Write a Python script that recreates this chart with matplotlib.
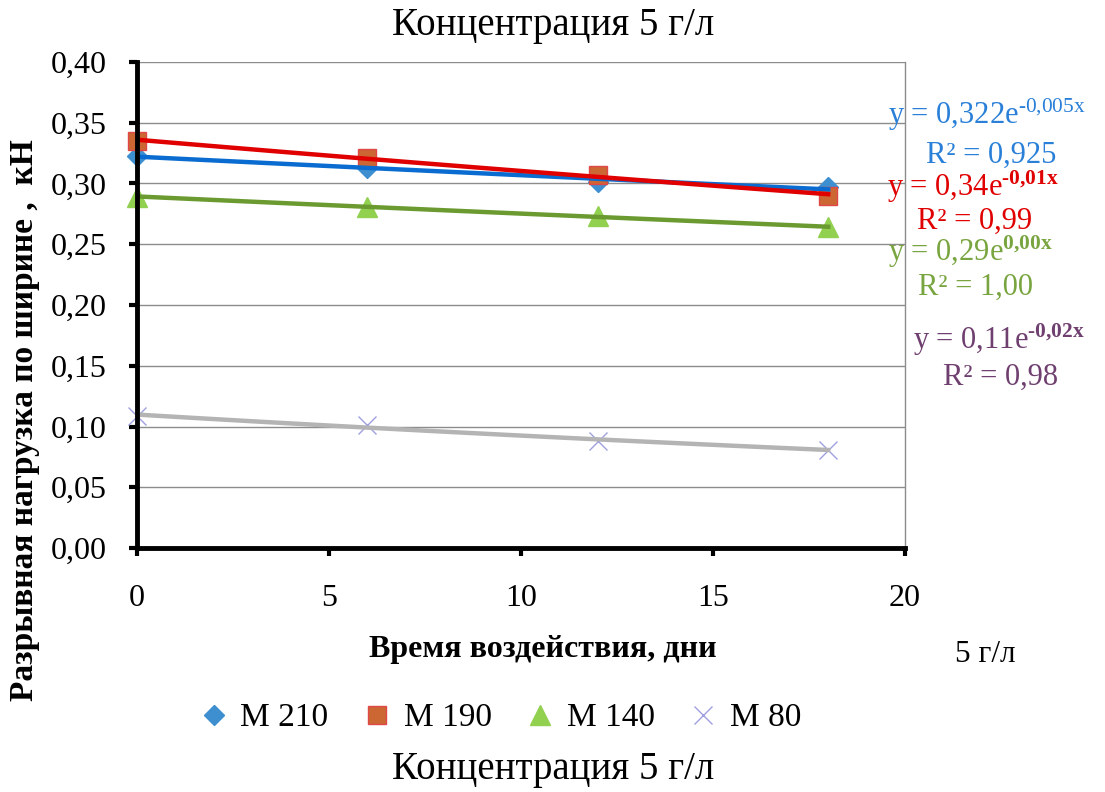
import numpy as np
import matplotlib.pyplot as plt

plt.rcParams['font.family'] = ['Liberation Serif', 'DejaVu Serif']
plt.rcParams['mathtext.fontset'] = 'custom'
plt.rcParams['mathtext.rm'] = 'Liberation Serif'
plt.rcParams['mathtext.bf'] = 'Liberation Serif:bold'
plt.rcParams['mathtext.default'] = 'regular'

days = [0, 6, 12, 18]
m210 = [0.323, 0.313, 0.301, 0.297]
m190 = [0.335, 0.321, 0.307, 0.290]
m140 = [0.289, 0.281, 0.273, 0.264]
m80 = [0.109, 0.101, 0.088, 0.081]

names = ['M 210', 'M 190', 'M 140', 'M 80']
eqs = [r'y = 0,322e$^{‐0{,}005x}$', r'y = 0,34e$^{\mathbf{‐0{,}01x}}$',
       r'y = 0,29e$^{\mathbf{0{,}00x}}$', r'y = 0,11e$^{\mathbf{‐0{,}02x}}$']
r2 = ['R² = 0,925', 'R² = 0,99', 'R² = 1,00', 'R² = 0,98']

xticks = [0, 5, 10, 15, 20]
yticks = np.arange(0, 0.401, 0.05)

fig = plt.figure(figsize=(11.05, 7.92), dpi=100)
ax = fig.add_axes([137/1105, 1-548/792, (905-137)/1105, (548-62)/792])

series = [m210, m190, m140, m80]
mstyle = [dict(marker='D', ms=10, mfc='#3D8FD0', mec='#3D8FD0'),
          dict(marker='s', ms=13, mfc='#CC6633', mec='#E04848', mew=1),
          dict(marker='^', ms=14, mfc='#92D050', mec='#92D050'),
          dict(marker='x', ms=13, mfc='none', mec='#A0A0E0', mew=1)]
tcol = ['#0A6CD0', '#E00000', '#6A9A30', '#B4B4B4']
ecol = ['#2A80D8', '#E00000', '#79A540', '#6F3F6F']

xs = np.linspace(0, 18, 50)
for i, ys in enumerate(series):
    ax.plot(days, ys, ls='none', clip_on=False, zorder=3, label=names[i], **mstyle[i])
    b, a = np.polyfit(days, np.log(ys), 1)
    ax.plot(xs, np.exp(a) * np.exp(b * xs), color=tcol[i], lw=3.2, zorder=4 + i * 0.1)

ax.set_xlim(0, 20)
ax.set_ylim(0, 0.40)
ax.set_xticks(xticks)
ax.set_yticks(yticks)
ax.set_yticklabels([f'{v:.2f}'.replace('.', ',') for v in yticks])
ax.grid(axis='y', color='#8C8C8C', lw=1)
ax.set_axisbelow(True)
ax.tick_params(axis='both', labelsize=23, width=3, length=6, direction='out')
ax.tick_params(axis='x', pad=20)
ax.tick_params(axis='y', pad=16)
for s in ['left', 'bottom']:
    ax.spines[s].set_linewidth(3.5)
    ax.spines[s].set_zorder(6)
ax.spines['right'].set_color('#8C8C8C')
ax.spines['right'].set_linewidth(1)
ax.spines['top'].set_visible(False)

# trendline equations
eq_pos = [(888, 115, 991, 155), (887, 187, 975, 221), (888, 252, 975, 287), (913, 340, 1001, 377)]
for i in range(4):
    x1, y1, x2, y2 = eq_pos[i]
    fig.text(x1/1105, 1-y1/792, eqs[i], color=ecol[i], fontsize=22, ha='left', va='center')
    fig.text(x2/1105, 1-y2/792, r2[i], color=ecol[i], fontsize=22, ha='center', va='center')

fig.text(553/1105, 1-25/792, 'Концентрация 5 г/л', fontsize=28, ha='center', va='center')
fig.text(553/1105, 1-770/792, 'Концентрация 5 г/л', fontsize=28, ha='center', va='center')
fig.text(543/1105, 1-650/792, 'Время воздействия, дни', fontsize=23, fontweight='bold',
         ha='center', va='center')
fig.text(985/1105, 1-655/792, '5 г/л', fontsize=22.5, ha='center', va='center')
fig.text(25/1105, 1-420/792, 'Разрывная нагрузка по ширине ,  кН', fontsize=24,
         fontweight='bold', rotation=90, ha='center', va='center')

fig.legend(loc='center', bbox_to_anchor=(499/1105, 1-718/792), ncol=4, frameon=False,
           prop={'family': 'Liberation Serif', 'size': 24},
           handletextpad=0.3, columnspacing=0.95, handlelength=1.0)

fig.savefig('out.png', dpi=100)
